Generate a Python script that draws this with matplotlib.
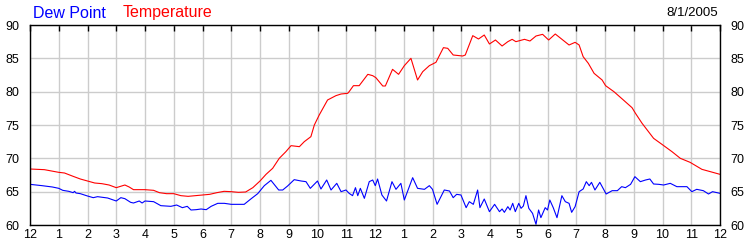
import matplotlib
matplotlib.use("Agg")
import matplotlib.pyplot as plt

temp_hours = [0, 0.5, 1.0, 1.2, 1.5, 1.75, 2.0, 2.25, 2.5, 2.75, 3.0, 3.15, 3.3, 3.45, 3.6, 4.0, 4.3,
              4.5, 4.75, 5.0, 5.25, 5.5, 5.75, 6.0, 6.25, 6.5, 6.75, 7.0, 7.25, 7.5, 7.75, 8.0, 8.21,
              8.44, 8.67, 8.9, 9.08, 9.37, 9.54, 9.77, 9.89, 10.06, 10.35, 10.64, 10.82, 11.05, 11.1,
              11.25, 11.45, 11.75, 11.92, 12.03, 12.27, 12.36, 12.61, 12.82, 13.02, 13.25, 13.48,
              13.66, 13.89, 14.12, 14.38, 14.53, 14.72, 15.05, 15.14, 15.4, 15.6, 15.8, 15.98,
              16.19, 16.42, 16.62, 16.77, 16.9, 17.2, 17.39, 17.6, 17.83, 18.04, 18.27, 18.46,
              18.75, 18.96, 19.1, 19.24, 19.42, 19.62, 19.9, 20.02, 20.31, 20.6, 20.94, 21.06,
              21.29, 21.69, 21.98, 22.33, 22.62, 22.96, 23.37, 24.0]
temp_values = [68.4, 68.3, 67.9, 67.8, 67.3, 66.9, 66.6, 66.3, 66.2, 66.0, 65.6, 65.8, 66.0, 65.7,
               65.3, 65.3, 65.2, 64.85, 64.7, 64.7, 64.4, 64.3, 64.4, 64.5, 64.6, 64.85, 65.05,
               65.0, 64.9, 64.95, 65.6, 66.6, 67.6, 68.5, 70.0, 71.0, 71.9, 71.75, 72.5, 73.25,
               75.0, 76.5, 78.75, 79.4, 79.65, 79.75, 80.0, 80.9, 80.9, 82.6, 82.4, 82.1, 80.85,
               80.85, 83.35, 82.6, 83.9, 85.0, 81.75, 83.0, 83.9, 84.4, 86.6, 86.5, 85.5, 85.35,
               85.5, 88.4, 87.9, 88.5, 87.15, 87.75, 86.85, 87.5, 87.85, 87.5, 87.85, 87.6, 88.35,
               88.6, 87.75, 88.65, 88.0, 87.0, 87.4, 87.0, 85.25, 84.25, 82.75, 81.75, 80.9, 80.0,
               78.9, 77.6, 76.75, 75.25, 73.0, 72.1, 71.0, 70.0, 69.4, 68.35, 67.6]

dew_hours = [0, 0.42, 0.78, 1.0, 1.14, 1.35, 1.5, 1.55, 1.6, 1.75, 2.0, 2.2, 2.35, 2.7, 3.0, 3.16,
             3.3, 3.5, 3.6, 3.8, 3.9, 4.0, 4.3, 4.55, 4.9, 5.1, 5.3, 5.47, 5.6, 5.78, 5.95, 6.13,
             6.3, 6.53, 6.76, 7.0, 7.45, 7.68, 7.92, 8.15, 8.38, 8.65, 8.79, 8.96, 9.19, 9.43, 9.6,
             9.75, 10.0, 10.12, 10.32, 10.47, 10.67, 10.82, 10.99, 11.1, 11.22, 11.32, 11.4, 11.49,
             11.63, 11.8, 11.92, 12.01, 12.09, 12.24, 12.4, 12.59, 12.73, 12.9, 13.02, 13.17,
             13.31, 13.48, 13.72, 13.89, 14.0, 14.16, 14.41, 14.59, 14.72, 14.84, 14.99, 15.17,
             15.28, 15.42, 15.57, 15.65, 15.8, 15.98, 16.16, 16.33, 16.42, 16.5, 16.62, 16.7,
             16.79, 16.88, 17.0, 17.08, 17.16, 17.25, 17.35, 17.48, 17.6, 17.69, 17.77, 17.92,
             18.0, 18.08, 18.2, 18.33, 18.5, 18.62, 18.75, 18.84, 18.96, 19.1, 19.24, 19.35,
             19.45, 19.53, 19.65, 19.82, 20.04, 20.25, 20.43, 20.58, 20.71, 20.89, 21.04, 21.23,
             21.41, 21.56, 21.69, 21.87, 22.04, 22.27, 22.5, 22.68, 22.85, 23.02, 23.19, 23.42,
             23.6, 23.74, 24.0]
dew_values = [66.1, 65.9, 65.7, 65.5, 65.2, 65.05, 64.85, 65.05, 64.8, 64.7, 64.35, 64.1, 64.25,
              64.05, 63.6, 64.1, 63.95, 63.4, 63.3, 63.6, 63.3, 63.6, 63.5, 62.9, 62.8, 63.0, 62.6,
              62.8, 62.25, 62.3, 62.4, 62.3, 62.8, 63.25, 63.25, 63.1, 63.1, 63.9, 64.7, 65.9,
              66.7, 65.25, 65.25, 65.85, 66.8, 66.6, 66.5, 65.5, 66.6, 65.4, 66.75, 65.25, 66.25,
              65.0, 65.25, 64.75, 64.4, 65.6, 64.4, 65.5, 64.0, 66.5, 66.75, 65.9, 66.9, 64.5,
              63.6, 66.5, 65.35, 66.25, 63.75, 65.5, 67.1, 65.5, 65.35, 65.9, 65.35, 63.1, 65.25,
              65.1, 64.1, 64.6, 64.5, 62.6, 63.5, 63.1, 65.25, 62.6, 63.9, 62.0, 63.1, 62.0, 62.4,
              61.9, 62.75, 62.25, 63.25, 62.0, 63.25, 62.5, 62.85, 64.4, 62.5, 61.75, 60.1, 62.25,
              61.1, 62.6, 62.25, 63.75, 62.6, 61.1, 64.4, 63.5, 63.25, 61.9, 62.75, 65.0, 65.4,
              66.5, 65.9, 66.4, 65.25, 66.4, 64.65, 65.15, 65.15, 65.75, 65.6, 66.1, 67.25, 66.5,
              66.75, 66.9, 66.15, 66.1, 66.0, 66.25, 65.75, 65.75, 65.75, 65.0, 65.35, 65.15,
              64.65, 65.0, 64.75]

x_tick_labels = ["12", "1", "2", "3", "4", "5", "6", "7", "8", "9", "10", "11",
                 "12", "1", "2", "3", "4", "5", "6", "7", "8", "9", "10", "11", "12"]
y_ticks = [60, 65, 70, 75, 80, 85, 90]

plt.rcParams['font.family'] = ['Liberation Sans', 'DejaVu Sans']

fig = plt.figure(figsize=(7.5, 2.5), dpi=100)
ax = fig.add_axes([30 / 750, 25 / 250, 690 / 750, 200 / 250])

ax.plot(dew_hours, dew_values, color='#0000ff', lw=0.8)
ax.plot(temp_hours, temp_values, color='#ff0000', lw=0.8)

ax.set_xlim(0, 24)
ax.set_ylim(60, 90)
ax.set_xticks(range(25))
ax.set_xticklabels(x_tick_labels, fontsize=9)
ax.set_yticks(y_ticks)
ax.set_yticklabels([str(v) for v in y_ticks], fontsize=9)
ax.grid(True, color='#cccccc', lw=1.0)
ax.set_axisbelow(True)
ax.tick_params(axis='x', which='both', top=True, bottom=False, direction='in', length=4,
               width=1, pad=3, labeltop=False, labelbottom=True)
ax.tick_params(axis='y', left=False, right=False, labelleft=True, labelright=True, pad=4)
for s in ax.spines.values():
    s.set_color('black')
    s.set_linewidth(1.0)

fig.text(33 / 750, 1 - 13 / 250, "Dew Point", color='#0000ff', fontsize=11.5, va='center', ha='left')
fig.text(123 / 750, 1 - 13 / 250, "Temperature", color='#ff0000', fontsize=11.5, va='center', ha='left')
fig.text(718 / 750, 1 - 13 / 250, "8/1/2005", color='black', fontsize=9.5, va='center', ha='right')

fig.savefig("out.png", dpi=100, facecolor='white')
